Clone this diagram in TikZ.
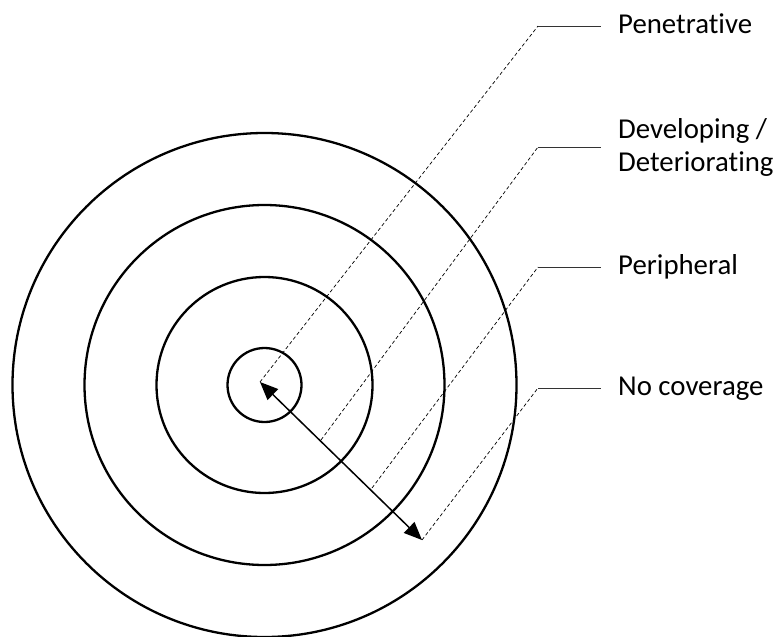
\documentclass[tikz,border=0pt]{standalone}
\usepackage{fontspec}
\setmainfont{Carlito}[Ligatures=CommonOff]
\usepackage{tikz}
\usetikzlibrary{arrows.meta, positioning}
\tikzset{
  ring/.style={draw=black, line width=2.3pt},
  dashlead/.style={draw=black, line width=0.7pt, dash pattern=on 3.5pt off 2.5pt},
  solidlead/.style={draw=black!80, line width=1pt},
  lbl/.style={anchor=west, inner xsep=17pt, inner ysep=0pt, font=\fontsize{28.8}{33}\selectfont},
  oneline/.style={lbl, text height=20pt, text depth=6pt},
}

\begin{document}
\begin{tikzpicture}[x=1pt, y=-1pt]
  \useasboundingbox (0,0) rectangle (782,637);

  \coordinate (mid) at (264.5,385);
  \foreach \r in {37,108,180,252}
    \draw[ring] (mid) circle[radius=\r];

  \coordinate (ctr) at (260,382);
  \coordinate (edge) at (422,540);
  \coordinate (m1) at (321,440);
  \coordinate (m2) at (372,488);

  \coordinate (pen-k) at (538,26);
  \coordinate (dev-k) at (538,147);
  \coordinate (per-k) at (538,267);
  \coordinate (noc-k) at (538,388);

  \node[oneline, right=63pt of pen-k] (pen) {Penetrative};
  \node[lbl, align=left, right=63pt of dev-k] (dev) {Developing /\\Deteriorating};
  \node[oneline, right=63pt of per-k] (per) {Peripheral};
  \node[oneline, right=63pt of noc-k] (noc) {No coverage};

  \draw[dashlead] (ctr) -- (pen-k);
  \draw[dashlead] (m1) -- (dev-k);
  \draw[dashlead] (m2) -- (per-k);
  \draw[dashlead] (edge) -- (noc-k);

  \draw[solidlead] (pen-k) -- (pen.west);
  \draw[solidlead] (dev-k) -- (dev.west);
  \draw[solidlead] (per-k) -- (per.west);
  \draw[solidlead] (noc-k) -- (noc.west);

  \draw[line width=1.5pt, {Triangle[length=18pt, width=15pt]}-{Triangle[length=18pt, width=15pt]}] (ctr) -- (edge);
\end{tikzpicture}
\end{document}
